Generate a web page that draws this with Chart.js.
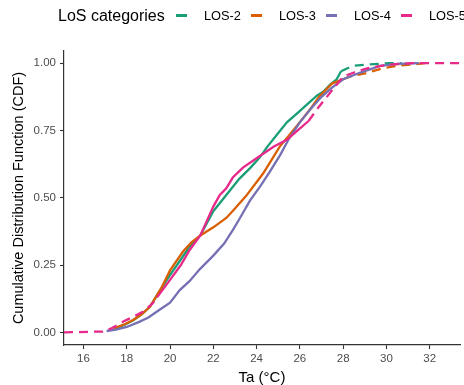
<!DOCTYPE html>
<html>
<head>
<meta charset="utf-8">
<script src="https://cdn.jsdelivr.net/npm/chart.js@4/dist/chart.umd.min.js"></script>
<style>
    body { margin: 0; background: #fff; }
    #wrap { position: relative; width: 464px; height: 385px; }
    #legend { position: absolute; left: 0; top: 0; width: 464px; height: 32px;
        font-family: "Liberation Sans", Arial, sans-serif; color: #000; white-space: nowrap; }
    #legend .ttl { position: absolute; left: 58px; top: 7px; font-size: 16px; }
    #legend .key { position: absolute; top: 14px; width: 11px; height: 3px; }
    #legend .lab { position: absolute; top: 8px; font-size: 12.8px; white-space: nowrap; }
</style>
</head>
<body>
<div id="wrap">
    <canvas id="cdfChart" width="464" height="385"></canvas>
    <div id="legend"></div>
</div>
<script>
// categories
var categories = ["LOS-2", "LOS-3", "LOS-4", "LOS-5"];
var colors = ["#1B9E77", "#D95F02", "#7570B3", "#E7298A"];

// LOS-2
var los2X = [17.4, 17.9, 18.3, 18.7, 19.07, 19.5, 20.0, 20.45, 20.9, 21.4, 22.0, 22.6, 23.2, 23.7, 24.15, 24.5, 24.9, 25.4, 25.9, 26.45, 26.8, 27.1, 27.4, 27.7, 27.9, 28.45, 29.2, 30.1, 30.7];
var los2Y = [0.012, 0.028, 0.045, 0.068, 0.095, 0.15, 0.213, 0.265, 0.318, 0.36, 0.45, 0.51, 0.57, 0.61, 0.65, 0.69, 0.73, 0.78, 0.815, 0.855, 0.88, 0.895, 0.92, 0.94, 0.97, 0.99, 0.995, 1.0, 1.0];
var los2Solid = [17.4, 27.9];

// LOS-3
var los3X = [17.4, 17.9, 18.3, 18.7, 19.07, 19.6, 20.0, 20.6, 21.0, 21.4, 22.0, 22.6, 23.0, 23.5, 24.3, 25.07, 25.84, 26.45, 26.9, 27.5, 28.0, 28.3, 29.07, 29.8, 30.5, 31.2, 31.8];
var los3Y = [0.015, 0.03, 0.046, 0.068, 0.095, 0.165, 0.23, 0.30, 0.335, 0.36, 0.39, 0.425, 0.46, 0.505, 0.59, 0.69, 0.765, 0.826, 0.876, 0.925, 0.94, 0.95, 0.963, 0.98, 0.99, 0.995, 1.0];
var los3Solid = [17.4, 28.0];

// LOS-4
var los4X = [17.07, 17.5, 18.0, 18.6, 19.0, 19.5, 20.0, 20.45, 20.9, 21.38, 22.0, 22.5, 22.9, 23.2, 23.7, 24.15, 24.6, 25.1, 25.5, 26.0, 26.5, 27.0, 27.5, 28.0, 28.8, 29.7, 30.5, 31.5];
var los4Y = [0.005, 0.01, 0.02, 0.04, 0.055, 0.083, 0.11, 0.157, 0.19, 0.235, 0.285, 0.33, 0.38, 0.42, 0.49, 0.54, 0.595, 0.66, 0.72, 0.78, 0.83, 0.875, 0.91, 0.94, 0.965, 0.99, 0.997, 1.0];
var los4Solid = [17.07, 31.5];

// LOS-5
var los5X = [15.1, 16.9, 17.3, 17.84, 18.3, 18.76, 19.2, 19.4, 20.0, 20.5, 20.9, 21.4, 22.0, 22.3, 22.6, 22.9, 23.37, 24.15, 24.8, 25.4, 25.9, 26.4, 26.9, 27.5, 28.0, 28.5, 29.07, 30.1, 31.2, 33.4];
var los5Y = [0, 0.003, 0.015, 0.04, 0.058, 0.077, 0.108, 0.13, 0.195, 0.25, 0.305, 0.36, 0.467, 0.51, 0.535, 0.575, 0.612, 0.655, 0.69, 0.715, 0.75, 0.785, 0.84, 0.90, 0.95, 0.965, 0.98, 0.994, 1.0, 1.0];
var los5Solid = [19.4, 26.4];

// tick labels
var xTicks = [16, 18, 20, 22, 24, 26, 28, 30, 32];
var yTicks = [0, 0.25, 0.5, 0.75, 1];

var seriesX = [los2X, los3X, los4X, los5X];
var seriesY = [los2Y, los3Y, los4Y, los5Y];
var solidRange = [los2Solid, los3Solid, los4Solid, los5Solid];

var font = '"Liberation Sans", Arial, sans-serif';

var datasets = categories.map(function(name, i) {
    return {
        label: name,
        data: seriesX[i].map(function(x, j) { return { x: x, y: seriesY[i][j] }; }),
        borderColor: colors[i],
        borderWidth: 2.3,
        pointRadius: 0,
        tension: 0,
        fill: false,
        order: categories.length - i,
        segment: {
            borderDash: function(ctx) {
                var r = solidRange[ctx.datasetIndex];
                var a = ctx.p0.parsed.x, b = ctx.p1.parsed.x;
                return (a < r[0] - 1e-6 || b > r[1] + 1e-6) ? [9, 6] : undefined;
            }
        }
    };
});

// html legend
var legend = document.getElementById('legend');
var t = document.createElement('span');
t.className = 'ttl';
t.textContent = 'LoS categories';
legend.appendChild(t);
categories.forEach(function(name, i) {
    var k = document.createElement('span');
    k.className = 'key';
    k.style.left = (176 + i * 75) + 'px';
    k.style.background = colors[i];
    legend.appendChild(k);
    var l = document.createElement('span');
    l.className = 'lab';
    l.style.left = (204 + i * 75) + 'px';
    l.textContent = name;
    legend.appendChild(l);
});

var ctx = document.getElementById('cdfChart').getContext('2d');
var chart = new Chart(ctx, {
    type: 'line',
    data: { datasets: datasets },
    options: {
        responsive: false,
        animation: false,
        layout: { padding: { top: 51, right: 4, bottom: 0, left: 0 } },
        plugins: { legend: { display: false }, tooltip: { enabled: false } },
        scales: {
            x: {
                type: 'linear',
                min: 15.1,
                max: 33.4,
                afterFit: function(scale) { scale.height = 40; },
                afterBuildTicks: function(scale) {
                    scale.ticks = xTicks.map(function(v) { return { value: v }; });
                },
                border: { display: true, color: '#333', width: 1.2 },
                grid: { drawOnChartArea: false, drawTicks: true, tickLength: 4, tickColor: '#333', tickWidth: 1.1 },
                ticks: { color: '#4D4D4D', font: { family: font, size: 11.5 }, padding: 3, maxRotation: 0 },
                title: { display: true, text: 'Ta (°C)', color: '#000', font: { family: font, size: 15, lineHeight: 1 }, padding: { top: 0, bottom: 0 } }
            },
            y: {
                type: 'linear',
                min: -0.047,
                max: 1.045,
                afterFit: function(scale) { scale.width = 64; },
                afterBuildTicks: function(scale) {
                    scale.ticks = yTicks.map(function(v) { return { value: v }; });
                },
                border: { display: true, color: '#333', width: 1.2 },
                grid: { drawOnChartArea: false, drawTicks: true, tickLength: 4, tickColor: '#333', tickWidth: 1.1 },
                ticks: {
                    color: '#4D4D4D', font: { family: font, size: 11.5 }, padding: 4,
                    callback: function(v) { return Number(v).toFixed(2); }
                },
                title: { display: true, text: 'Cumulative Distribution Function (CDF)', color: '#000', font: { family: font, size: 14.5, lineHeight: 1 }, padding: { top: 12, bottom: 0 } }
            }
        }
    }
});
</script>
</body>
</html>
